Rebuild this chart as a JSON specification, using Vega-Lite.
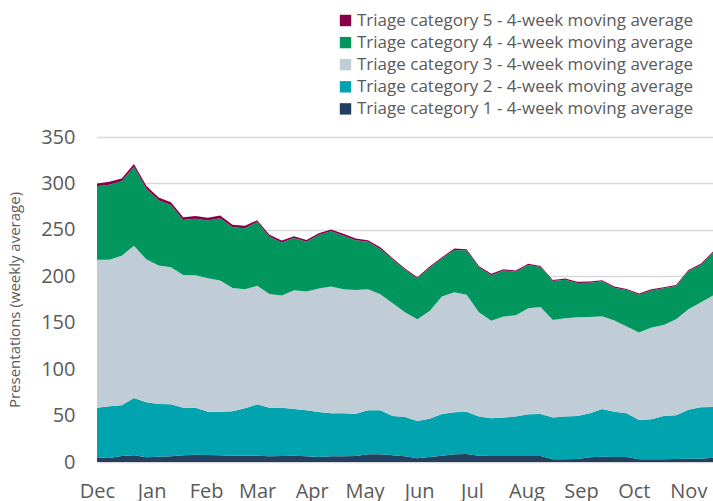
{
"$schema": "https://vega.github.io/schema/vega-lite/v6.json",
"width": 616, "height": 325,
"autosize": {"type": "none"},
"padding": {"left": 97, "top": 137, "right": 0, "bottom": 39},
"background": "white",
"config": {"view": {"stroke": null}, "font": "Open Sans"},
"data": {"values": [
{"d":"2019-12-01","c":"1","v":5.0},{"d":"2019-12-01","c":"2","v":53.5},{"d":"2019-12-01","c":"3","v":159.2},{"d":"2019-12-01","c":"4","v":79.3},{"d":"2019-12-01","c":"5","v":3.0},
{"d":"2019-12-08","c":"1","v":4.3},{"d":"2019-12-08","c":"2","v":55.7},{"d":"2019-12-08","c":"3","v":157.7},{"d":"2019-12-08","c":"4","v":81.0},{"d":"2019-12-08","c":"5","v":3.0},
{"d":"2019-12-15","c":"1","v":6.5},{"d":"2019-12-15","c":"2","v":54.5},{"d":"2019-12-15","c":"3","v":161.0},{"d":"2019-12-15","c":"4","v":80.3},{"d":"2019-12-15","c":"5","v":3.0},
{"d":"2019-12-22","c":"1","v":7.2},{"d":"2019-12-22","c":"2","v":61.8},{"d":"2019-12-22","c":"3","v":163.8},{"d":"2019-12-22","c":"4","v":85.2},{"d":"2019-12-22","c":"5","v":3.0},
{"d":"2019-12-29","c":"1","v":5.0},{"d":"2019-12-29","c":"2","v":59.3},{"d":"2019-12-29","c":"3","v":154.1},{"d":"2019-12-29","c":"4","v":76.0},{"d":"2019-12-29","c":"5","v":3.0},
{"d":"2020-01-05","c":"1","v":5.7},{"d":"2020-01-05","c":"2","v":56.8},{"d":"2020-01-05","c":"3","v":149.1},{"d":"2020-01-05","c":"4","v":70.2},{"d":"2020-01-05","c":"5","v":3.0},
{"d":"2020-01-12","c":"1","v":6.1},{"d":"2020-01-12","c":"2","v":56.0},{"d":"2020-01-12","c":"3","v":147.7},{"d":"2020-01-12","c":"4","v":67.0},{"d":"2020-01-12","c":"5","v":3.0},
{"d":"2020-01-19","c":"1","v":7.2},{"d":"2020-01-19","c":"2","v":51.3},{"d":"2020-01-19","c":"3","v":143.0},{"d":"2020-01-19","c":"4","v":59.1},{"d":"2020-01-19","c":"5","v":3.0},
{"d":"2020-01-26","c":"1","v":7.9},{"d":"2020-01-26","c":"2","v":50.6},{"d":"2020-01-26","c":"3","v":142.5},{"d":"2020-01-26","c":"4","v":61.0},{"d":"2020-01-26","c":"5","v":3.0},
{"d":"2020-02-02","c":"1","v":7.5},{"d":"2020-02-02","c":"2","v":46.5},{"d":"2020-02-02","c":"3","v":144.0},{"d":"2020-02-02","c":"4","v":62.0},{"d":"2020-02-02","c":"5","v":3.0},
{"d":"2020-02-09","c":"1","v":7.2},{"d":"2020-02-09","c":"2","v":46.8},{"d":"2020-02-09","c":"3","v":141.4},{"d":"2020-02-09","c":"4","v":67.0},{"d":"2020-02-09","c":"5","v":3.0},
{"d":"2020-02-16","c":"1","v":6.8},{"d":"2020-02-16","c":"2","v":47.8},{"d":"2020-02-16","c":"3","v":132.9},{"d":"2020-02-16","c":"4","v":65.4},{"d":"2020-02-16","c":"5","v":2.5},
{"d":"2020-02-23","c":"1","v":6.8},{"d":"2020-02-23","c":"2","v":51.0},{"d":"2020-02-23","c":"3","v":128.2},{"d":"2020-02-23","c":"4","v":65.8},{"d":"2020-02-23","c":"5","v":2.5},
{"d":"2020-03-01","c":"1","v":6.8},{"d":"2020-03-01","c":"2","v":55.3},{"d":"2020-03-01","c":"3","v":127.6},{"d":"2020-03-01","c":"4","v":68.7},{"d":"2020-03-01","c":"5","v":2.0},
{"d":"2020-03-08","c":"1","v":6.1},{"d":"2020-03-08","c":"2","v":52.4},{"d":"2020-03-08","c":"3","v":122.5},{"d":"2020-03-08","c":"4","v":61.6},{"d":"2020-03-08","c":"5","v":2.0},
{"d":"2020-03-15","c":"1","v":6.5},{"d":"2020-03-15","c":"2","v":52.0},{"d":"2020-03-15","c":"3","v":120.7},{"d":"2020-03-15","c":"4","v":57.3},{"d":"2020-03-15","c":"5","v":2.0},
{"d":"2020-03-22","c":"1","v":6.8},{"d":"2020-03-22","c":"2","v":50.3},{"d":"2020-03-22","c":"3","v":127.9},{"d":"2020-03-22","c":"4","v":56.2},{"d":"2020-03-22","c":"5","v":2.0},
{"d":"2020-03-29","c":"1","v":6.1},{"d":"2020-03-29","c":"2","v":49.6},{"d":"2020-03-29","c":"3","v":127.8},{"d":"2020-03-29","c":"4","v":53.7},{"d":"2020-03-29","c":"5","v":2.0},
{"d":"2020-04-05","c":"1","v":5.4},{"d":"2020-04-05","c":"2","v":48.5},{"d":"2020-04-05","c":"3","v":132.9},{"d":"2020-04-05","c":"4","v":57.6},{"d":"2020-04-05","c":"5","v":2.0},
{"d":"2020-04-12","c":"1","v":6.1},{"d":"2020-04-12","c":"2","v":46.3},{"d":"2020-04-12","c":"3","v":136.6},{"d":"2020-04-12","c":"4","v":59.4},{"d":"2020-04-12","c":"5","v":2.0},
{"d":"2020-04-19","c":"1","v":6.1},{"d":"2020-04-19","c":"2","v":46.3},{"d":"2020-04-19","c":"3","v":133.6},{"d":"2020-04-19","c":"4","v":57.7},{"d":"2020-04-19","c":"5","v":2.0},
{"d":"2020-04-26","c":"1","v":6.5},{"d":"2020-04-26","c":"2","v":45.5},{"d":"2020-04-26","c":"3","v":133.3},{"d":"2020-04-26","c":"4","v":53.4},{"d":"2020-04-26","c":"5","v":2.0},
{"d":"2020-05-03","c":"1","v":8.3},{"d":"2020-05-03","c":"2","v":47.4},{"d":"2020-05-03","c":"3","v":130.3},{"d":"2020-05-03","c":"4","v":51.1},{"d":"2020-05-03","c":"5","v":1.8},
{"d":"2020-05-10","c":"1","v":8.3},{"d":"2020-05-10","c":"2","v":47.4},{"d":"2020-05-10","c":"3","v":125.0},{"d":"2020-05-10","c":"4","v":48.8},{"d":"2020-05-10","c":"5","v":1.8},
{"d":"2020-05-17","c":"1","v":7.2},{"d":"2020-05-17","c":"2","v":42.4},{"d":"2020-05-17","c":"3","v":121.4},{"d":"2020-05-17","c":"4","v":47.0},{"d":"2020-05-17","c":"5","v":1.5},
{"d":"2020-05-24","c":"1","v":6.3},{"d":"2020-05-24","c":"2","v":42.2},{"d":"2020-05-24","c":"3","v":112.8},{"d":"2020-05-24","c":"4","v":45.7},{"d":"2020-05-24","c":"5","v":1.5},
{"d":"2020-05-31","c":"1","v":4.0},{"d":"2020-05-31","c":"2","v":40.2},{"d":"2020-05-31","c":"3","v":109.5},{"d":"2020-05-31","c":"4","v":44.0},{"d":"2020-05-31","c":"5","v":1.3},
{"d":"2020-06-07","c":"1","v":5.4},{"d":"2020-06-07","c":"2","v":41.3},{"d":"2020-06-07","c":"3","v":116.0},{"d":"2020-06-07","c":"4","v":46.5},{"d":"2020-06-07","c":"5","v":1.3},
{"d":"2020-06-14","c":"1","v":6.8},{"d":"2020-06-14","c":"2","v":44.9},{"d":"2020-06-14","c":"3","v":126.5},{"d":"2020-06-14","c":"4","v":41.0},{"d":"2020-06-14","c":"5","v":1.3},
{"d":"2020-06-21","c":"1","v":8.3},{"d":"2020-06-21","c":"2","v":45.2},{"d":"2020-06-21","c":"3","v":129.3},{"d":"2020-06-21","c":"4","v":45.6},{"d":"2020-06-21","c":"5","v":1.5},
{"d":"2020-06-28","c":"1","v":8.6},{"d":"2020-06-28","c":"2","v":45.6},{"d":"2020-06-28","c":"3","v":125.8},{"d":"2020-06-28","c":"4","v":47.7},{"d":"2020-06-28","c":"5","v":1.5},
{"d":"2020-07-05","c":"1","v":6.8},{"d":"2020-07-05","c":"2","v":42.1},{"d":"2020-07-05","c":"3","v":112.4},{"d":"2020-07-05","c":"4","v":48.4},{"d":"2020-07-05","c":"5","v":1.5},
{"d":"2020-07-12","c":"1","v":6.5},{"d":"2020-07-12","c":"2","v":40.5},{"d":"2020-07-12","c":"3","v":105.0},{"d":"2020-07-12","c":"4","v":49.1},{"d":"2020-07-12","c":"5","v":1.5},
{"d":"2020-07-19","c":"1","v":6.5},{"d":"2020-07-19","c":"2","v":41.3},{"d":"2020-07-19","c":"3","v":108.8},{"d":"2020-07-19","c":"4","v":49.7},{"d":"2020-07-19","c":"5","v":1.3},
{"d":"2020-07-26","c":"1","v":6.5},{"d":"2020-07-26","c":"2","v":42.4},{"d":"2020-07-26","c":"3","v":109.1},{"d":"2020-07-26","c":"4","v":46.9},{"d":"2020-07-26","c":"5","v":1.3},
{"d":"2020-08-02","c":"1","v":6.5},{"d":"2020-08-02","c":"2","v":44.9},{"d":"2020-08-02","c":"3","v":114.2},{"d":"2020-08-02","c":"4","v":46.5},{"d":"2020-08-02","c":"5","v":1.3},
{"d":"2020-08-09","c":"1","v":6.5},{"d":"2020-08-09","c":"2","v":45.2},{"d":"2020-08-09","c":"3","v":115.3},{"d":"2020-08-09","c":"4","v":42.9},{"d":"2020-08-09","c":"5","v":1.3},
{"d":"2020-08-16","c":"1","v":2.9},{"d":"2020-08-16","c":"2","v":44.9},{"d":"2020-08-16","c":"3","v":105.2},{"d":"2020-08-16","c":"4","v":41.9},{"d":"2020-08-16","c":"5","v":1.2},
{"d":"2020-08-23","c":"1","v":2.9},{"d":"2020-08-23","c":"2","v":46.0},{"d":"2020-08-23","c":"3","v":105.9},{"d":"2020-08-23","c":"4","v":41.6},{"d":"2020-08-23","c":"5","v":1.2},
{"d":"2020-08-30","c":"1","v":3.2},{"d":"2020-08-30","c":"2","v":46.4},{"d":"2020-08-30","c":"3","v":106.3},{"d":"2020-08-30","c":"4","v":36.9},{"d":"2020-08-30","c":"5","v":1.2},
{"d":"2020-09-06","c":"1","v":5.0},{"d":"2020-09-06","c":"2","v":47.4},{"d":"2020-09-06","c":"3","v":103.8},{"d":"2020-09-06","c":"4","v":36.9},{"d":"2020-09-06","c":"5","v":1.2},
{"d":"2020-09-13","c":"1","v":5.7},{"d":"2020-09-13","c":"2","v":51.4},{"d":"2020-09-13","c":"3","v":99.9},{"d":"2020-09-13","c":"4","v":37.6},{"d":"2020-09-13","c":"5","v":1.2},
{"d":"2020-09-20","c":"1","v":5.4},{"d":"2020-09-20","c":"2","v":48.8},{"d":"2020-09-20","c":"3","v":98.1},{"d":"2020-09-20","c":"4","v":35.4},{"d":"2020-09-20","c":"5","v":1.2},
{"d":"2020-09-27","c":"1","v":5.4},{"d":"2020-09-27","c":"2","v":47.0},{"d":"2020-09-27","c":"3","v":93.4},{"d":"2020-09-27","c":"4","v":39.4},{"d":"2020-09-27","c":"5","v":1.2},
{"d":"2020-10-04","c":"1","v":2.9},{"d":"2020-10-04","c":"2","v":42.4},{"d":"2020-10-04","c":"3","v":94.1},{"d":"2020-10-04","c":"4","v":40.8},{"d":"2020-10-04","c":"5","v":1.2},
{"d":"2020-10-11","c":"1","v":2.9},{"d":"2020-10-11","c":"2","v":43.1},{"d":"2020-10-11","c":"3","v":98.8},{"d":"2020-10-11","c":"4","v":40.0},{"d":"2020-10-11","c":"5","v":1.2},
{"d":"2020-10-18","c":"1","v":2.9},{"d":"2020-10-18","c":"2","v":46.7},{"d":"2020-10-18","c":"3","v":98.0},{"d":"2020-10-18","c":"4","v":39.4},{"d":"2020-10-18","c":"5","v":1.2},
{"d":"2020-10-25","c":"1","v":3.2},{"d":"2020-10-25","c":"2","v":47.1},{"d":"2020-10-25","c":"3","v":103.4},{"d":"2020-10-25","c":"4","v":35.8},{"d":"2020-10-25","c":"5","v":1.2},
{"d":"2020-11-01","c":"1","v":3.6},{"d":"2020-11-01","c":"2","v":52.8},{"d":"2020-11-01","c":"3","v":108.1},{"d":"2020-11-01","c":"4","v":41.2},{"d":"2020-11-01","c":"5","v":1.2},
{"d":"2020-11-08","c":"1","v":3.6},{"d":"2020-11-08","c":"2","v":55.3},{"d":"2020-11-08","c":"3","v":112.8},{"d":"2020-11-08","c":"4","v":40.5},{"d":"2020-11-08","c":"5","v":1.2},
{"d":"2020-11-15","c":"1","v":4.7},{"d":"2020-11-15","c":"2","v":54.6},{"d":"2020-11-15","c":"3","v":119.9},{"d":"2020-11-15","c":"4","v":46.2},{"d":"2020-11-15","c":"5","v":1.2}
]},
"mark": {"type": "area", "interpolate": "linear"},
"encoding": {
  "x": {"field": "d", "type": "temporal",
    "scale": {"domain": [{"year": 2019, "month": 12, "date": 1}, {"year": 2020, "month": 11, "date": 15}]},
    "axis": {"title": null, "format": "%b", "tickCount": {"interval": "month", "step": 1}, "grid": false, "domain": false, "ticks": false,
      "labelFontSize": 20, "labelColor": "#5a5a5a", "labelPadding": 19, "labelAlign": "center", "labelFlush": false, "labelOverlap": false}},
  "y": {"field": "v", "type": "quantitative", "stack": "zero",
    "scale": {"domain": [0, 350], "nice": false},
    "axis": {"title": "Presentations (weekly average)", "values": [0, 50, 100, 150, 200, 250, 300, 350],
      "grid": true, "gridColor": "#d9d9d9", "gridWidth": 1.5, "domain": false, "ticks": false,
      "labelFontSize": 20, "labelColor": "#5a5a5a", "labelPadding": 22,
      "titleFontSize": 15, "titleFontWeight": "normal", "titleColor": "#5a5a5a", "titlePadding": 18}},
  "color": {"field": "c", "type": "nominal",
    "scale": {"domain": ["5", "4", "3", "2", "1"], "range": ["#88004a", "#00965e", "#c0cdd6", "#00a3ae", "#243f60"]},
    "legend": {"orient": "none", "legendX": 240, "legendY": -125, "title": null, "symbolType": "square", "symbolSize": 130,
      "symbolStrokeWidth": 0, "symbolOpacity": 1, "labelFontSize": 17, "labelColor": "#5a5a5a", "labelLimit": 0, "rowPadding": 4.1, "labelOffset": 3,
      "labelExpr": "'Triage category ' + datum.label + ' - 4-week moving average'"}},
  "order": {"field": "c", "sort": "ascending"}
}
}
